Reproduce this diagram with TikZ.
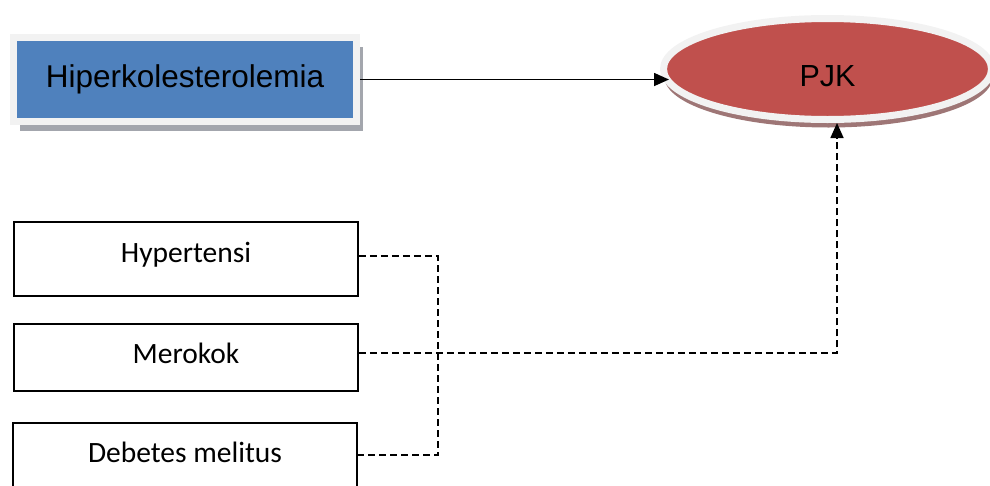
\documentclass[tikz,border=0pt]{standalone}
\usepackage{fontspec}
\setmainfont{Liberation Sans}
\newfontfamily\arialfont{Liberation Sans}
\newfontfamily\calibrifont{Carlito}
\usetikzlibrary{arrows.meta,calc,shadows,shapes.geometric}
\definecolor{hiperblue}{HTML}{4F81BD}
\definecolor{pjkred}{HTML}{C0504D}
\definecolor{ringgray}{HTML}{F2F2F2}
\definecolor{boxshade}{HTML}{A3A6AD}
\definecolor{pjkshade}{HTML}{9E7676}
\begin{document}
\begin{tikzpicture}[x=1pt, y=-1pt,
    factor/.style={draw, line width=1.5pt, minimum width=344pt, inner sep=0pt,
        text height=20pt, font=\calibrifont\fontsize{29.5}{34}\selectfont},
    dashline/.style={line width=1.6pt, dash pattern=on 7pt off 4pt},
    arrowline/.style={line width=1.6pt, -{Triangle[length=15pt,width=13pt]}}]
    \useasboundingbox (0,0) rectangle (990,485);

    \node[rectangle, fill=hiperblue, draw=ringgray, line width=7pt,
        minimum width=343pt, minimum height=84pt, inner sep=0pt,
        font=\arialfont\fontsize{31.5}{36}\selectfont,
        drop shadow={shadow xshift=6.5pt, shadow yshift=-9.5pt, fill=boxshade, opacity=1}]
        (hiper) at (185,79.5) {Hiperkolesterolemia};
    \node[ellipse, fill=pjkred, draw=ringgray, line width=7pt,
        minimum width=328pt, minimum height=101pt, inner sep=0pt,
        text height=34pt, text depth=0pt,
        font=\arialfont\fontsize{30.5}{36}\selectfont,
        drop shadow={shadow xshift=1pt, shadow yshift=-8pt, fill=pjkshade, opacity=1}]
        (pjk) at (827.5,69) {PJK};

    \node[factor, minimum height=74pt, text depth=14pt] (hyper) at (186,259) {Hypertensi};
    \node[factor, minimum height=67pt, text depth=9pt] (merokok) at (186,357.5) {Merokok};
    \node[factor, minimum height=64pt, text depth=6pt] (debetes) at (185,455) {Debetes melitus};

    \draw[arrowline] (hiper.east) -- ($(hiper.east -| pjk.west)+(9,0)$);

    \draw[dashline] ([yshift=3pt]hyper.east) -- ++(79,0) |- (debetes.east);
    \draw[dashline, arrowline] ([yshift=4.5pt]merokok.east) -| ([xshift=9.5pt]pjk.south);
\end{tikzpicture}
\end{document}
